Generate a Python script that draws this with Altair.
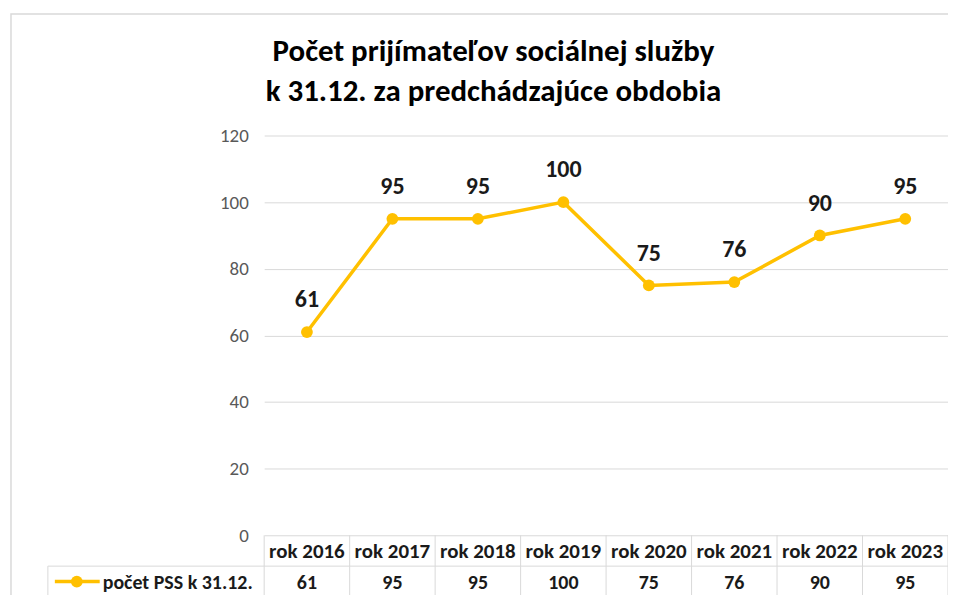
import altair as alt
import pandas as pd

years = ["rok 2016", "rok 2017", "rok 2018", "rok 2019", "rok 2020", "rok 2021", "rok 2022", "rok 2023"]
values = [61, 95, 95, 100, 75, 76, 90, 95]
series_name = "počet PSS k 31.12."
title_lines = ["Počet prijímateľov sociálnej služby", "k 31.12. za predchádzajúce obdobia"]
y_ticks = [0, 20, 40, 60, 80, 100, 120]

W, H = 686, 401
ROW = 31
GOLD = "#FFC000"
FONT = "Carlito, 'Liberation Sans Narrow', Lato, 'Open Sans', sans-serif"
GRID = "#d9d9d9"
TXT = "#1a1a1a"

df = pd.DataFrame({"rok": years, "pocet": values})
xscale = alt.Scale(paddingInner=0, paddingOuter=0)
xenc = alt.X("rok:N", sort=years, axis=None, scale=xscale)

base = alt.Chart(df)

line = base.mark_line(color=GOLD, strokeWidth=3.5).encode(
    x=xenc,
    y=alt.Y("pocet:Q", scale=alt.Scale(domain=[0, 120]),
            axis=alt.Axis(values=y_ticks, title=None, domain=False, ticks=False,
                          labelPadding=16, labelFontSize=19, labelColor="#595959",
                          labelFont=FONT, gridColor=GRID, gridWidth=1)),
)
pts = base.mark_point(filled=True, color=GOLD, size=140, opacity=1).encode(x=xenc, y="pocet:Q")
labels = base.mark_text(dy=-32, fontSize=24, fontWeight="bold", font=FONT, color=TXT).encode(
    x=xenc, y="pocet:Q", text="pocet:Q")

# data table below the plot
hdr = base.mark_text(fontSize=21, fontWeight="bold", font=FONT, color=TXT).encode(
    x=xenc, y=alt.value(H + ROW / 2 + 1), text="rok:N")
vals = base.mark_text(fontSize=20, fontWeight="bold", font=FONT, color=TXT).encode(
    x=xenc, y=alt.value(H + ROW * 1.5 + 1), text="pocet:Q")

vlines = base.mark_rule(color=GRID, strokeWidth=1).encode(
    x=alt.X("rok:N", sort=years, axis=None, bandPosition=0, scale=xscale),
    y=alt.value(H), y2=alt.value(H + 2 * ROW))

one = pd.DataFrame({"k": [0]})
LEFT = -217
rule_kw = dict(color=GRID, strokeWidth=1)
r_right = alt.Chart(one).mark_rule(**rule_kw).encode(x=alt.value(W), y=alt.value(H), y2=alt.value(H + 2 * ROW))
r_left = alt.Chart(one).mark_rule(**rule_kw).encode(x=alt.value(LEFT), y=alt.value(H + ROW), y2=alt.value(H + 2 * ROW))
r_mid = alt.Chart(one).mark_rule(**rule_kw).encode(x=alt.value(LEFT), x2=alt.value(W), y=alt.value(H + ROW))
r_bot = alt.Chart(one).mark_rule(**rule_kw).encode(x=alt.value(LEFT), x2=alt.value(W), y=alt.value(H + 2 * ROW))

leg_line = alt.Chart(one).mark_rule(color=GOLD, strokeWidth=3.5).encode(
    x=alt.value(LEFT + 7), x2=alt.value(LEFT + 52), y=alt.value(H + ROW * 1.5))
leg_pt = alt.Chart(one).mark_point(filled=True, color=GOLD, size=140, opacity=1).encode(
    x=alt.value(LEFT + 29), y=alt.value(H + ROW * 1.5))
leg_txt = alt.Chart(pd.DataFrame({"t": [series_name]})).mark_text(
    align="left", fontSize=20, fontWeight="bold", font=FONT, color=TXT).encode(
    x=alt.value(LEFT + 55), y=alt.value(H + ROW * 1.5 + 1), text="t:N")

title_df = pd.DataFrame({"t": title_lines, "dy": [-75, -35]})
title = alt.Chart(title_df).mark_text(
    align="center", baseline="alphabetic", fontSize=31, fontWeight="bold", font=FONT, color="#000000"
).encode(x=alt.value(230), y=alt.Y("dy:Q", scale=None), text="t:N")

frame = alt.Chart(one).mark_rect(fill=None, stroke="#d9d9d9", strokeWidth=1.5).encode(
    x=alt.value(-254), x2=alt.value(W + 40), y=alt.value(-122), y2=alt.value(H + 90))

chart = alt.layer(
    frame, line, pts, labels, hdr, vals, vlines, r_right, r_left, r_mid, r_bot,
    leg_line, leg_pt, leg_txt, title
).properties(
    width=W, height=H,
    autosize=alt.AutoSizeParams(type="none"),
    padding={"left": 257, "top": 127, "right": 0, "bottom": 59},
).configure_view(stroke=None)

chart.save("out.html", embed_options={"renderer": "svg", "actions": False})
